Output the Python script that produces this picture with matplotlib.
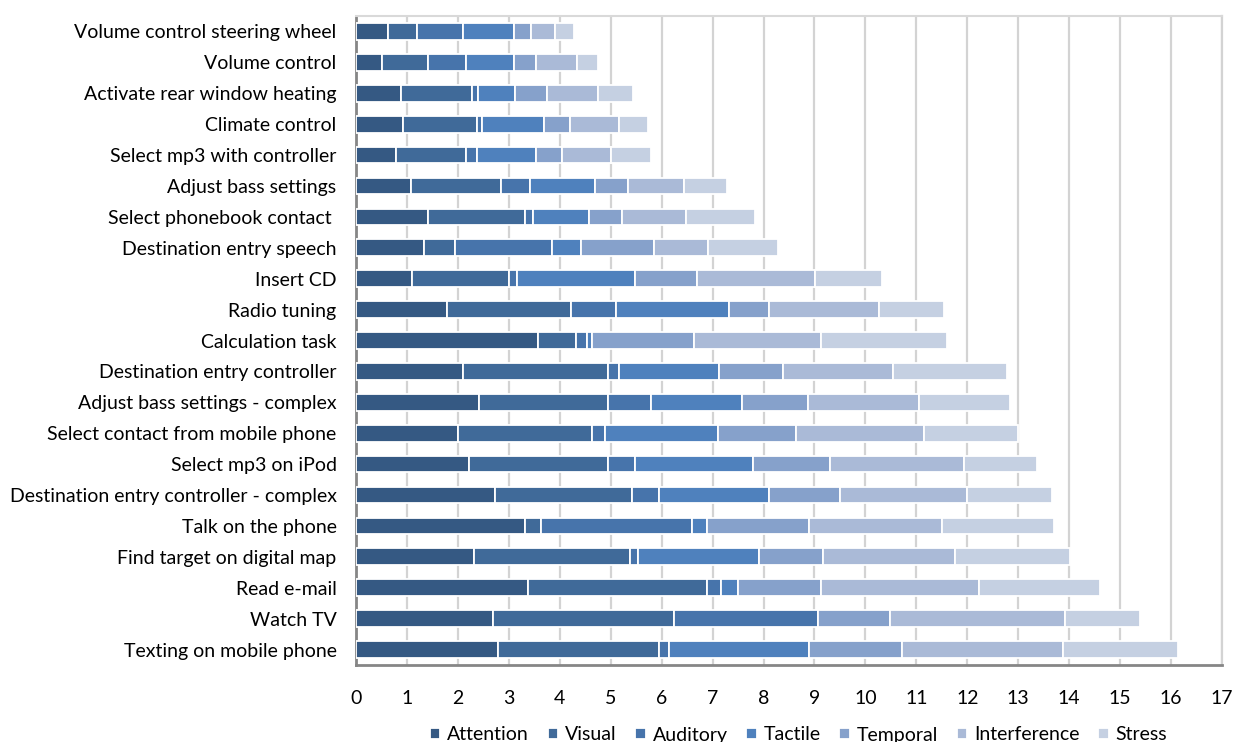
import matplotlib.pyplot as plt
import numpy as np

plt.rcParams['font.family'] = ['Lato', 'DejaVu Sans']

tasks = [
    'Volume control steering wheel', 'Volume control', 'Activate rear window heating',
    'Climate control', 'Select mp3 with controller', 'Adjust bass settings',
    'Select phonebook contact ', 'Destination entry speech', 'Insert CD',
    'Radio tuning', 'Calculation task', 'Destination entry controller',
    'Adjust bass settings - complex', 'Select contact from mobile phone',
    'Select mp3 on iPod', 'Destination entry controller - complex',
    'Talk on the phone', 'Find target on digital map', 'Read e-mail',
    'Watch TV', 'Texting on mobile phone',
]

attention    = [0.62, 0.52, 0.88, 0.93, 0.78, 1.09, 1.42, 1.34, 1.10, 1.78, 3.58,
                2.11, 2.42, 2.00, 2.21, 2.73, 3.31, 2.31, 3.37, 2.69, 2.79]
visual       = [0.58, 0.90, 1.40, 1.44, 1.38, 1.75, 1.90, 0.61, 1.91, 2.44, 0.74,
                2.83, 2.52, 2.63, 2.73, 2.68, 0.33, 3.06, 3.53, 3.56, 3.15]
auditory     = [0.90, 0.74, 0.11, 0.10, 0.21, 0.58, 0.15, 1.90, 0.15, 0.88, 0.21,
                0.22, 0.85, 0.26, 0.53, 0.53, 2.95, 0.17, 0.27, 2.82, 0.21]
tactile      = [1.00, 0.95, 0.74, 1.22, 1.16, 1.28, 1.11, 0.56, 2.31, 2.22, 0.10,
                1.96, 1.78, 2.22, 2.32, 2.16, 0.31, 2.37, 0.32, 0.00, 2.75]
temporal     = [0.33, 0.43, 0.62, 0.52, 0.52, 0.64, 0.64, 1.44, 1.22, 0.78, 2.00,
                1.27, 1.31, 1.52, 1.52, 1.40, 2.00, 1.26, 1.63, 1.42, 1.81]
interference = [0.47, 0.79, 1.00, 0.95, 0.96, 1.10, 1.26, 1.06, 2.33, 2.17, 2.49,
                2.16, 2.17, 2.52, 2.63, 2.50, 2.60, 2.58, 3.11, 3.43, 3.16]
stress       = [0.37, 0.42, 0.68, 0.58, 0.79, 0.84, 1.36, 1.38, 1.31, 1.27, 2.48,
                2.23, 1.78, 1.84, 1.43, 1.67, 2.20, 2.27, 2.37, 1.47, 2.26]

series = {
    'Attention': attention, 'Visual': visual, 'Auditory': auditory,
    'Tactile': tactile, 'Temporal': temporal, 'Interference': interference,
    'Stress': stress,
}
colors = ['#355983', '#406A99', '#4774AB', '#4F81BD', '#86A1CB', '#AABAD7', '#C5D0E2']

fig = plt.figure(figsize=(12.36, 7.42), dpi=100)
ax = fig.add_axes([0.288, 0.1038, 0.7007, 0.8746])

# stacked horizontal bars, one segment per load dimension
y = np.arange(len(tasks))
left = np.zeros(len(tasks))
for (name, vals), col in zip(series.items(), colors):
    vals = np.array(vals)
    ax.barh(y, vals, left=left, height=0.54, color=col, edgecolor='white',
            linewidth=1.3, label=name, zorder=3)
    left += vals

ax.set_ylim(len(tasks) - 0.5, -0.5)
ax.set_yticks(y)
ax.set_yticklabels(tasks, fontsize=14)
ax.set_xlim(0, 17)
ax.set_xticks(range(0, 18))
ax.tick_params(axis='x', length=0, pad=18, labelsize=14)
ax.tick_params(axis='y', length=0, pad=14)

ax.xaxis.grid(True, color='#D3D3D3', linewidth=1.6)
ax.set_axisbelow(True)
ax.spines['left'].set_color('#868686')
ax.spines['left'].set_linewidth(2)
ax.spines['bottom'].set_color('#868686')
ax.spines['bottom'].set_linewidth(2)
ax.spines['top'].set_color('#D9D9D9')
ax.spines['top'].set_linewidth(1.5)
ax.spines['right'].set_color('#D3D3D3')
ax.spines['right'].set_linewidth(1.6)

fig.legend(loc='center', bbox_to_anchor=(0.646, 1 - 735 / 742), ncol=7,
           frameon=False, fontsize=14, handlelength=0.55, handleheight=0.55,
           handletextpad=0.35, columnspacing=0.95)

fig.savefig('out.png', dpi=100)
